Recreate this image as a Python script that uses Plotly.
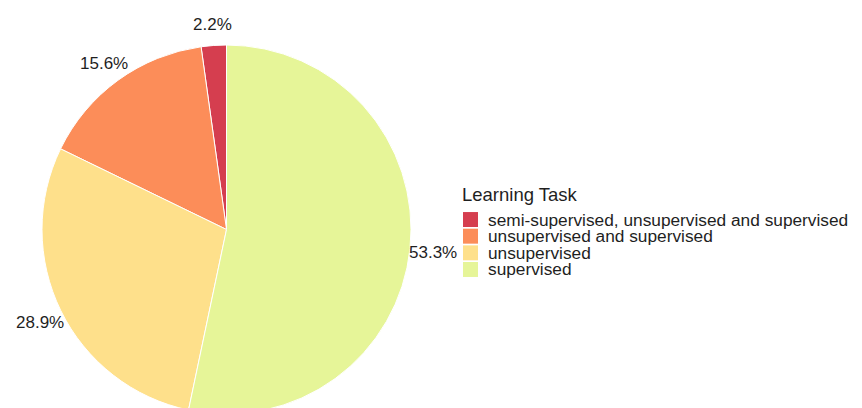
import math
import plotly.graph_objects as go

labels = ["semi-supervised, unsupervised and supervised",
          "unsupervised and supervised",
          "unsupervised",
          "supervised"]
values = [2.2, 15.6, 28.9, 53.3]
colors = ["#D53E4F", "#FC8D59", "#FEE08B", "#E6F598"]
legend_title = "Learning Task"

W, H = 862, 408
OFF = 8                      # page body margin offset of the figure
CX, CY = 226.5, 229.5        # pie centre in page pixels
cx, cy, r = CX - OFF, CY - OFF, 185
T, B = cy - r, H - (cy + r)
PW, PH = W, H - T - B
FONT = "Liberation Sans, Arial, sans-serif"
TXT = "#1f1f1f"


def px(X):
    return (X - OFF) / PW


def py(Y):
    return 1 - (Y - OFF - T) / PH


total = sum(values)
# first slice must end at 12 o'clock going counterclockwise -> rotate back by its angle
rot = -360.0 * values[0] / total

fig = go.Figure(go.Pie(
    labels=labels,
    values=values,
    sort=False,
    direction="counterclockwise",
    rotation=rot,
    marker=dict(colors=colors, line=dict(color="white", width=1)),
    textinfo="none",
    domain=dict(x=[(cx - r) / PW, (cx + r) / PW], y=[0, 1]),
    showlegend=False,
    hoverinfo="label+percent",
))

# percentage labels outside each slice, along its bisector
label_r = 208
cum = 0.0
for v in values:
    mid = cum + v / 2.0
    cum += v
    ang = -2 * math.pi * mid / total          # counterclockwise from 12 o'clock
    X = CX + label_r * math.sin(ang)
    Y = CY - label_r * math.cos(ang) + 2
    fig.add_annotation(x=px(X), y=py(Y), xref="paper", yref="paper",
                       text=f"{100 * v / total:.1f}%", showarrow=False,
                       xanchor="center", yanchor="middle",
                       font=dict(size=17, color=TXT, family=FONT))

# legend drawn as annotations + squares
lx, ly0, dy, sq = 463, 219.5, 16.7, 15
fig.add_annotation(x=px(460), y=py(194), xref="paper", yref="paper",
                   text=legend_title, showarrow=False, xanchor="left", yanchor="middle",
                   font=dict(size=18.5, color=TXT, family=FONT))
for i, (lab, col) in enumerate(zip(labels, colors)):
    yc = ly0 + i * dy
    fig.add_shape(type="rect", xref="paper", yref="paper",
                  x0=px(lx), x1=px(lx + sq),
                  y0=py(yc - sq / 2), y1=py(yc + sq / 2),
                  fillcolor=col, line=dict(width=0))
    fig.add_annotation(x=px(486), y=py(yc), xref="paper", yref="paper",
                       text=lab, showarrow=False, xanchor="left", yanchor="middle",
                       font=dict(size=17.3, color=TXT, family=FONT))

fig.update_layout(
    width=W, height=H,
    margin=dict(l=0, r=0, t=T, b=B, pad=0),
    paper_bgcolor="white",
    font=dict(family=FONT, size=17, color=TXT),
    showlegend=False,
)

fig.write_html("out.html")
